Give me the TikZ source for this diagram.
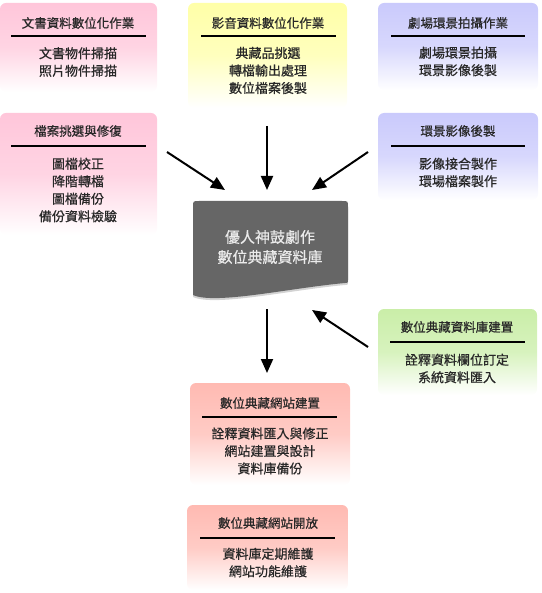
\documentclass[tikz,border=0pt]{standalone}
\usepackage{fontspec}
\setmainfont{Noto Sans CJK TC}[FakeBold=0.6]
\usetikzlibrary{arrows.meta,shadows}
\definecolor{pinkc}{RGB}{255,198,218}
\definecolor{yelc}{RGB}{255,255,168}
\definecolor{bluec}{RGB}{202,202,252}
\definecolor{greenc}{RGB}{202,238,168}
\definecolor{salc}{RGB}{255,186,178}
\definecolor{txt}{RGB}{40,40,40}
\definecolor{dbc}{RGB}{102,102,102}
\begin{document}
\begin{tikzpicture}[x=1pt,y=-1pt,
 pbox/.style={rectangle, rounded corners=6pt, inner sep=0pt, top color=#1, bottom color=white, middle color=#1!75!white},
 ttl/.style={font=\fontsize{12.5}{15}\selectfont, text=txt, inner sep=0pt},
 itm/.style={font=\fontsize{13}{17.5}\selectfont, text=txt, align=center, inner sep=0pt},
 rul/.style={line width=1.4pt, black},
 arr/.style={line width=2pt, -{Triangle[length=14pt,width=12pt]}},
 dbt/.style={font=\fontsize{15}{20}\selectfont, text=white!92!black, align=center, inner sep=0pt}]
\useasboundingbox (0,0) rectangle (541,593);

% boxes
\node[pbox=pinkc, minimum width=157pt, minimum height=89pt] (b1) at (78.5,47.5) {};
\node[pbox=yelc, minimum width=159pt, minimum height=105pt] (b2) at (267.5,55.5) {};
\node[pbox=bluec, minimum width=160pt, minimum height=87pt] (b3) at (458,46.5) {};
\node[pbox=pinkc, minimum width=157pt, minimum height=122pt] (b4) at (78.5,174) {};
\node[pbox=bluec, minimum width=160pt, minimum height=87pt] (b5) at (458,156.5) {};
\node[pbox=greenc, minimum width=159pt, minimum height=86pt] (b6) at (457.5,352) {};
\node[pbox=salc, minimum width=160pt, minimum height=102pt] (b7) at (270,434) {};
\node[pbox=salc, minimum width=161pt, minimum height=85pt] (b8) at (267.5,547.5) {};

% titles
\node[ttl] (t1) at (78,23) {文書資料數位化作業};
\node[ttl] (t2) at (268,23) {影音資料數位化作業};
\node[ttl] (t3) at (458,23) {劇場環景拍攝作業};
\node[ttl] (t4) at (78,131) {檔案挑選與修復};
\node[ttl] (t5) at (458,131) {環景影像後製};
\node[ttl] (t6) at (457,327) {數位典藏資料庫建置};
\node[ttl] (t7) at (270,403) {數位典藏網站建置};
\node[ttl] (t8) at (268,523) {數位典藏網站開放};

% rules
\draw[rul] (11,36) -- (146,36);
\draw[rul] (201,36) -- (336,36);
\draw[rul] (391,36) -- (525,36);
\draw[rul] (11,146) -- (146,146);
\draw[rul] (391,146) -- (525,146);
\draw[rul] (390,342) -- (525,342);
\draw[rul] (202,417) -- (337,417);
\draw[rul] (200,538) -- (335,538);

% items
\node[itm] (i1) at (78,62) {文書物件掃描\\照片物件掃描};
\node[itm] (i2) at (268,70.5) {典藏品挑選\\轉檔輸出處理\\數位檔案後製};
\node[itm] (i3) at (458,61.5) {劇場環景拍攝\\環景影像後製};
\node[itm] (i4) at (78,190) {圖檔校正\\降階轉檔\\圖檔備份\\備份資料檢驗};
\node[itm] (i5) at (458,172.5) {影像接合製作\\環場檔案製作};
\node[itm] (i6) at (457,368.5) {詮釋資料欄位訂定\\系統資料匯入};
\node[itm] (i7) at (270,451) {詮釋資料匯入與修正\\網站建置與設計\\資料庫備份};
\node[itm] (i8) at (268,562.5) {資料庫定期維護\\網站功能維護};

% database document shape
\fill[dbc, drop shadow={shadow xshift=0pt, shadow yshift=-2pt, opacity=0.35}]
  (193,295) -- (193,207) .. controls (193,201) .. (199,201) -- (342,201)
  .. controls (348,201) .. (348,207) -- (348,280)
  .. controls (348,283) .. (345,283)
  .. controls (290,288) and (215,305) .. (193,295) -- cycle;
\node[dbt] (db) at (270,247) {優人神鼓劇作\\數位典藏資料庫};

% arrows
\coordinate (a1s) at (167,152); \coordinate (a1e) at (225,190);
\coordinate (a2s) at (267,126); \coordinate (a2e) at (267,190);
\coordinate (a3s) at (368,152); \coordinate (a3e) at (312,190);
\coordinate (a4s) at (267,309); \coordinate (a4e) at (267,373);
\coordinate (a5s) at (368,347); \coordinate (a5e) at (312,310);
\draw[arr] (a1s) -- (a1e);
\draw[arr] (a2s) -- (a2e);
\draw[arr] (a3s) -- (a3e);
\draw[arr] (a4s) -- (a4e);
\draw[arr] (a5s) -- (a5e);
\end{tikzpicture}
\end{document}
